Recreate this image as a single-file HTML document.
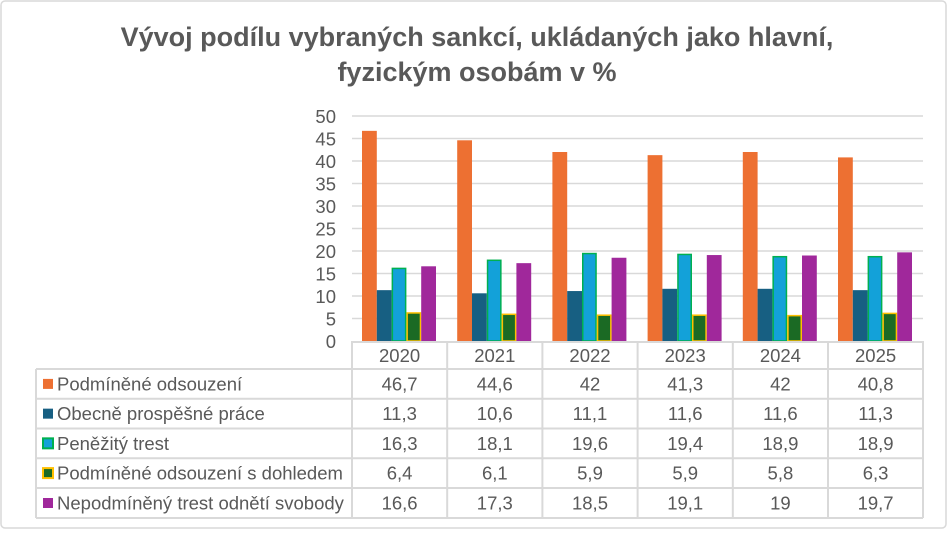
<!DOCTYPE html>
<html><head><meta charset="utf-8"><style>
body{margin:0;background:#fff;font-family:"Liberation Sans",sans-serif;}
svg text{font-family:"Liberation Sans",sans-serif;fill:#595959;}
</style></head><body>
<svg width="947" height="529" xmlns="http://www.w3.org/2000/svg">
<rect x="1" y="1" width="945" height="527" rx="4" fill="#fff" stroke="#d9d9d9" stroke-width="1.5"/>
<text x="477" y="46" font-size="27" font-weight="bold" text-anchor="middle">Vývoj podílu vybraných sankcí, ukládaných jako hlavní,</text>
<text x="477" y="81" font-size="27" font-weight="bold" text-anchor="middle">fyzickým osobám v %</text>
<g id="grid" stroke="#d9d9d9" stroke-width="1.5">
</g>
<g id="bars"></g>
<g id="ylab"></g>
<g id="tbl"></g>
</svg>
<script>
const ns="http://www.w3.org/2000/svg";
function el(p,t,a,txt){const e=document.createElementNS(ns,t);for(const k in a)e.setAttribute(k,a[k]);if(txt!==undefined)e.textContent=txt;document.querySelector(p).appendChild(e);return e;}
const y0=341,s=4.5,x0=352,cw=95.2,fs=18.5,xr=923;
for(let v=0;v<=50;v+=5){const y=y0-v*s;if(v>0)el('#grid','line',{x1:x0,x2:xr,y1:y,y2:y});
el('#ylab','text',{x:336,y:y+7,'text-anchor':'end','font-size':fs},v);}
const years=[2020,2021,2022,2023,2024,2025];
const series=[
["Podmíněné odsouzení","#ed7032",null,[46.7,44.6,42,41.3,42,40.8]],
["Obecně prospěšné práce","#175f82",null,[11.3,10.6,11.1,11.6,11.6,11.3]],
["Peněžitý trest","#13a1d9","#00b050",[16.3,18.1,19.6,19.4,18.9,18.9]],
["Podmíněné odsouzení s dohledem","#1b6a24","#ffc000",[6.4,6.1,5.9,5.9,5.8,6.3]],
["Nepodmíněný trest odnětí svobody","#a0289b",null,[16.6,17.3,18.5,19.1,19,19.7]]];
const bw=14.8;
series.forEach((sr,i)=>{sr[3].forEach((v,j)=>{const x=x0+j*cw+10+i*bw,h=v*s;
const a={x:x,y:y0-h,width:bw,height:h,fill:sr[1]};
if(sr[2]){a.stroke=sr[2];a['stroke-width']=1.5;a.x=x+0.75;a.width=bw-1.5;a.y=y0-h+0.75;a.height=h-0.75;}
el('#bars','rect',a);});});
const rows=[342,369,398.8,428.5,458.2,488,518];
const L='stroke:#d9d9d9;stroke-width:2';
el('#tbl','line',{x1:x0,x2:xr,y1:342,y2:342,style:L});
for(let k=1;k<rows.length;k++){el('#tbl','line',{x1:36,x2:xr,y1:rows[k],y2:rows[k],style:L});}
el('#tbl','line',{x1:36,x2:36,y1:369,y2:518,style:L});
for(let j=0;j<=6;j++){const x=j==6?xr:x0+j*cw;el('#tbl','line',{x1:x,x2:x,y1:341,y2:518,style:L});}
years.forEach((yr,j)=>el('#tbl','text',{x:x0+j*cw+cw/2,y:362,'text-anchor':'middle','font-size':fs},yr));
series.forEach((sr,i)=>{const yc=(rows[i+1]+rows[i+2])/2;
const a={x:43,y:yc-5,width:10,height:10,fill:sr[1]};
if(sr[2]){a.stroke=sr[2];a['stroke-width']=2;}
el('#tbl','rect',a);
el('#tbl','text',{x:57,y:yc+6.5,'font-size':fs},sr[0]);
sr[3].forEach((v,j)=>el('#tbl','text',{x:x0+j*cw+cw/2,y:yc+6.5,'text-anchor':'middle','font-size':fs},String(v).replace('.',',')));});
</script>
</body></html>
